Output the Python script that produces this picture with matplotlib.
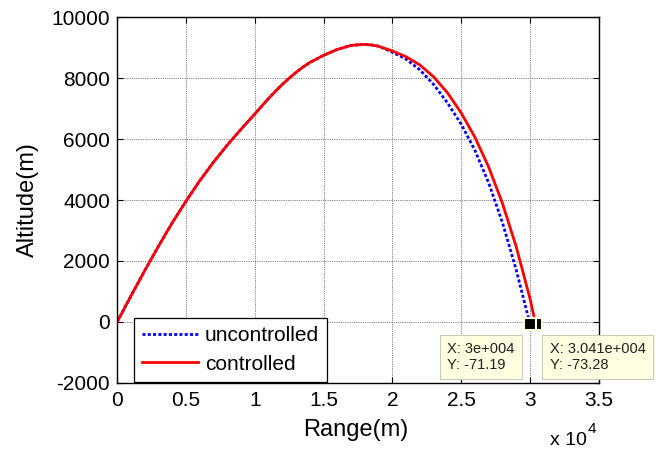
import matplotlib
matplotlib.use('Agg')
import matplotlib.pyplot as plt

plt.rcParams['font.family'] = ['Liberation Sans', 'DejaVu Sans']

# ascending part, same for both runs (m)
climb_x = [0, 1000, 2000, 3000, 4000, 5000, 6000, 7000, 8000, 9000, 10000,
           11000, 11500, 12000, 12500, 13000, 13500, 14000, 15000, 16000, 17000, 17850, 18500, 19000]
climb_y = [0, 850, 1680, 2480, 3250, 3960, 4630, 5240, 5800, 6320, 6820,
           7330, 7565, 7790, 7995, 8185, 8360, 8510, 8745, 8940, 9070, 9105, 9085, 9045]

# descending part
unc_x = [20000, 21000, 22000, 23000, 24000, 25000, 26000, 27000, 28000, 29000, 30000]
unc_y = [8850, 8620, 8270, 7790, 7190, 6490, 5630, 4560, 3260, 1710, -71.19]

ctl_x = [20000, 21000, 22000, 23000, 24000, 25000, 26000, 27000, 28000, 29000, 30000, 30410]
ctl_y = [8890, 8700, 8430, 8040, 7520, 6860, 6060, 5080, 3890, 2470, 770, -73.28]

# data tips
tip_x = [30000, 30410]
tip_y = [-71.19, -73.28]
tip_txt = ['X: 3e+004\nY: -71.19', 'X: 3.041e+004\nY: -73.28']

xticks = [0, 5000, 10000, 15000, 20000, 25000, 30000, 35000]
xtick_lbl = ['0', '0.5', '1', '1.5', '2', '2.5', '3', '3.5']
yticks = [-2000, 0, 2000, 4000, 6000, 8000, 10000]
ytick_lbl = ['-2000', '0', '2000', '4000', '6000', '8000', '10000']

fig = plt.figure(figsize=(6.58, 4.5), dpi=100)
ax = fig.add_axes([0.178, 0.149, 0.732, 0.813])

ax.plot(climb_x + unc_x, climb_y + unc_y, color='#0000FF', lw=2,
        linestyle=(0, (1.1, 0.8)), label='uncontrolled')
ax.plot(climb_x + ctl_x, climb_y + ctl_y, color='#FF0000', lw=2,
        label='controlled')

ax.set_xlim(0, 35000)
ax.set_ylim(-2000, 10000)
ax.set_xticks(xticks)
ax.set_xticklabels(xtick_lbl)
ax.set_yticks(yticks)
ax.set_yticklabels(ytick_lbl)
ax.tick_params(direction='in', length=4, width=0.8, labelsize=15,
               top=True, right=True, color='k')
ax.tick_params(axis='x', pad=6)
ax.tick_params(axis='y', pad=5)
ax.grid(True, color='0.35', linestyle=(0, (1, 1.2)), lw=0.6)
for s in ax.spines.values():
    s.set_linewidth(1)
    s.set_color('k')

ax.set_xlabel('Range(m)', fontsize=17)
ax.set_ylabel('Altitude(m)', fontsize=17)
ax.xaxis.set_label_coords(0.495, -0.098)
ax.yaxis.set_label_coords(-0.162, 0.5)

leg = ax.legend(loc='lower left', bbox_to_anchor=(0.035, 0.003), borderaxespad=0,
                fontsize=15, handlelength=2.65, handletextpad=0.35,
                labelspacing=0.45, borderpad=0.4, fancybox=False, framealpha=1)
leg.get_frame().set_edgecolor('k')
leg.get_frame().set_linewidth(0.9)

# data tip markers, second first so the first sits on top
for i in [1, 0]:
    ax.plot(tip_x[i], tip_y[i], 's', ms=8.6, mfc='k', mec='#FFFFE1', mew=1.5,
            zorder=6, clip_on=False)

offsets = [(-83, -18), (14, -18)]
for i in range(2):
    ax.annotate(tip_txt[i], xy=(tip_x[i], tip_y[i]), xytext=offsets[i],
                textcoords='offset pixels', ha='left', va='top', fontsize=10.5,
                linespacing=1.15, color='#202020', zorder=7, annotation_clip=False,
                bbox=dict(boxstyle='square,pad=0.5', fc='#FFFFE1', ec='#C8C8B0', lw=0.7))

fig.text(550 / 658, 1 - 445 / 450, 'x 10', fontsize=14, va='baseline', ha='left')
fig.text(588 / 658, 1 - 433 / 450, '4', fontsize=11, va='baseline', ha='left')

fig.savefig('out.png', dpi=100)
